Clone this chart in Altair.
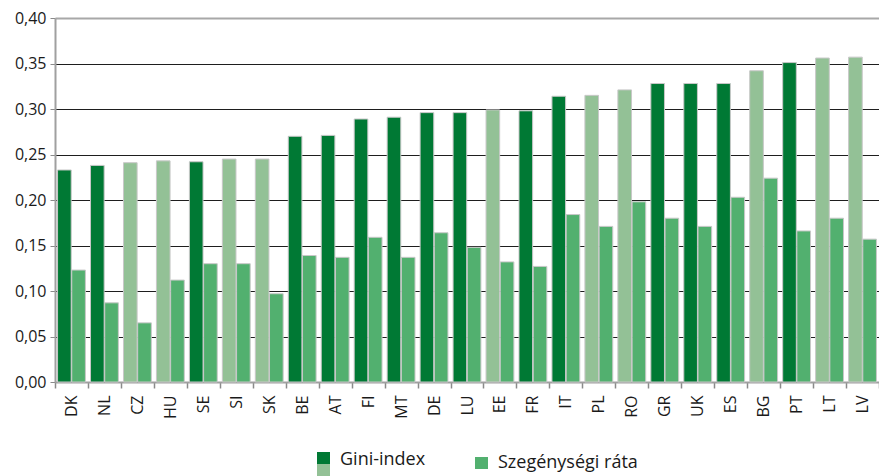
import altair as alt
import pandas as pd

countries = ["DK", "NL", "CZ", "HU", "SE", "SI", "SK", "BE", "AT", "FI", "MT", "DE", "LU",
             "EE", "FR", "IT", "PL", "RO", "GR", "UK", "ES", "BG", "PT", "LT", "LV"]
gini = [0.233, 0.238, 0.241, 0.243, 0.242, 0.245, 0.245, 0.270, 0.271, 0.289, 0.291, 0.296, 0.296,
        0.299, 0.298, 0.314, 0.315, 0.321, 0.328, 0.328, 0.328, 0.342, 0.351, 0.356, 0.357]
poverty = [0.123, 0.087, 0.065, 0.112, 0.130, 0.130, 0.097, 0.139, 0.137, 0.159, 0.137, 0.164, 0.148,
           0.132, 0.127, 0.184, 0.171, 0.198, 0.180, 0.171, 0.203, 0.224, 0.166, 0.180, 0.157]
light_gini = ["CZ", "HU", "SI", "SK", "EE", "PL", "RO", "BG", "LT", "LV"]

series = ["Gini-index", "Szegénységi ráta"]
shades = ["gini_dark", "gini_light", "poverty"]
shade_colors = ["#007934", "#93c196", "#52b06f"]

rows = []
for c, g, p in zip(countries, gini, poverty):
    rows.append({"country": c, "series": series[0], "value": g,
                 "shade": "gini_light" if c in light_gini else "gini_dark"})
    rows.append({"country": c, "series": series[1], "value": p, "shade": "poverty"})
df = pd.DataFrame(rows)

FONT = "Open Sans"

bars = alt.Chart(df).mark_bar(stroke="#c8c8c8", strokeWidth=1).encode(
    x=alt.X("country:N", sort=countries, title=None,
            scale=alt.Scale(paddingInner=0, paddingOuter=0),
            axis=alt.Axis(labelAngle=-90, tickBand="extent", labelFontSize=16, labelFont=FONT,
                          labelColor="#1a1a1a", labelPadding=7, tickSize=6, tickColor="#8a8a8a",
                          tickWidth=1.5, domainColor="#a0a0a0", domainWidth=2, grid=False)),
    xOffset=alt.XOffset("series:N", sort=series,
                        scale=alt.Scale(paddingInner=0.04, paddingOuter=0.18)),
    y=alt.Y("value:Q", title=None,
            scale=alt.Scale(domain=[0, 0.4], nice=False),
            axis=alt.Axis(values=[0, 0.05, 0.1, 0.15, 0.2, 0.25, 0.3, 0.35, 0.4],
                          labelExpr="replace(format(datum.value, '.2f'), '.', ',')",
                          labelFontSize=16, labelFont=FONT, labelColor="#1a1a1a",
                          labelPadding=4, tickSize=5, tickColor="#8a8a8a",
                          domainColor="#a0a0a0", domainWidth=2,
                          gridColor=alt.condition("datum.value == 0 || datum.value > 0.399",
                                                  alt.value("#a8a8a8"), alt.value("#1e1e1e")),
                          gridWidth=alt.condition("datum.value > 0.399",
                                                  alt.value(2), alt.value(1.2)))),
    color=alt.Color("shade:N", scale=alt.Scale(domain=shades, range=shade_colors), legend=None),
)

one = pd.DataFrame({"k": [0]})


def swatch(x, y, color):
    return alt.Chart(one).mark_rect(color=color).encode(
        x=alt.value(x), x2=alt.value(x + 13), y=alt.value(y), y2=alt.value(y + 12))


def label(x, y, txt):
    return alt.Chart(one).mark_text(align="left", baseline="middle", fontSize=18, font=FONT,
                                    color="#1a1a1a").encode(
        x=alt.value(x), y=alt.value(y), text=alt.value(txt))


legend = alt.layer(
    swatch(262, 434, shade_colors[0]),
    swatch(262, 446, shade_colors[1]),
    label(285, 442, series[0]),
    swatch(420, 439, shade_colors[2]),
    label(443, 445, series[1]),
)

chart = alt.layer(bars, legend).properties(
    width=824, height=364,
    autosize=alt.AutoSizeParams(type="none"),
    padding={"left": 47, "top": 10, "right": 0, "bottom": 94},
).configure_view(stroke=None)

chart.save("out.html", embed_options={"renderer": "svg", "actions": False})
